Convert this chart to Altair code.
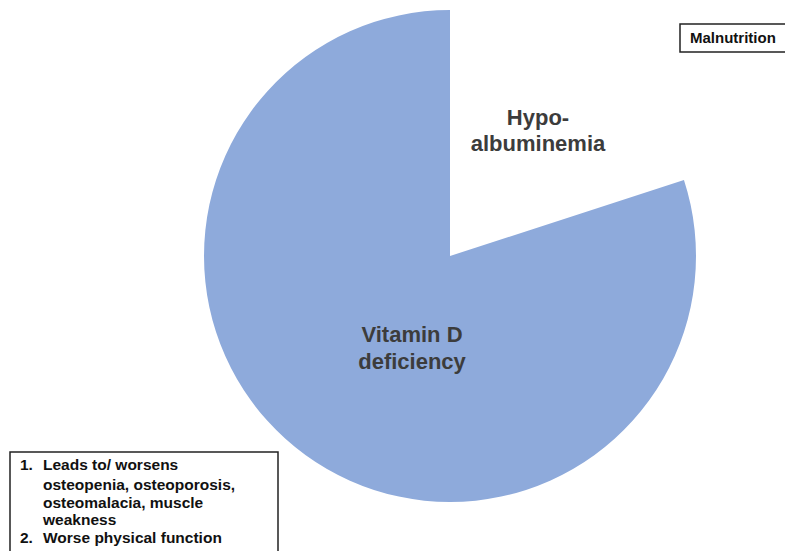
import altair as alt
import pandas as pd

# Pie data
slices = ["Hypo-albuminemia", "Vitamin D deficiency"]
shares = [20, 80]
slice_order = [0, 1]
slice_colors = ["#ffffff", "#8eaadb"]

# Labels
pie_label_lines = ["Hypo-", "albuminemia", "Vitamin D", "deficiency"]
box_numbers = ["1.", "", "", "", "2."]
box_lines = ["Leads to/ worsens", "osteopenia, osteoporosis,", "osteomalacia, muscle",
             "weakness", "Worse physical function"]
tag_text = ["Malnutrition"]

FONT = "Liberation Sans"

pie_df = pd.DataFrame({"slice": slices, "share": shares, "ord": slice_order})

pie = alt.Chart(pie_df).mark_arc(outerRadius=246).encode(
    theta=alt.Theta("share:Q", stack=True),
    color=alt.Color("slice:N", scale=alt.Scale(domain=slices, range=slice_colors), legend=None),
    order=alt.Order("ord:Q"),
    x=alt.value(442),
    y=alt.value(248),
)

lbl_df = pd.DataFrame({"t": pie_label_lines,
                       "px": [530, 530, 404, 404],
                       "py": [110, 136, 327, 354]})
pie_labels = alt.Chart(lbl_df).mark_text(
    font=FONT, fontSize=22, fontWeight="bold", color="#3c3c3c", align="center", baseline="middle"
).encode(text="t:N", x=alt.X("px:Q", scale=None), y=alt.Y("py:Q", scale=None))

# Boxes
box_df = pd.DataFrame({"x0": [2, 672], "x1": [270, 810], "y0": [444, 16], "y1": [570, 44]})
boxes = alt.Chart(box_df).mark_rect(fill="white", stroke="#222222", strokeWidth=1.5).encode(
    x=alt.X("x0:Q", scale=None), x2="x1:Q",
    y=alt.Y("y0:Q", scale=None), y2="y1:Q",
)

list_df = pd.DataFrame({"n": box_numbers, "t": box_lines,
                        "py": [457, 477, 495, 512, 530]})
nums = alt.Chart(list_df).mark_text(
    font=FONT, fontSize=15.5, fontWeight="bold", color="#111111", align="left", baseline="middle"
).encode(text="n:N", x=alt.value(12), y=alt.Y("py:Q", scale=None))
lines = alt.Chart(list_df).mark_text(
    font=FONT, fontSize=15.5, fontWeight="bold", color="#111111", align="left", baseline="middle"
).encode(text="t:N", x=alt.value(35), y=alt.Y("py:Q", scale=None))

tag_df = pd.DataFrame({"t": tag_text})
tag = alt.Chart(tag_df).mark_text(
    font=FONT, fontSize=15, fontWeight="bold", color="#111111", align="left", baseline="middle"
).encode(text="t:N", x=alt.value(682), y=alt.value(30))

chart = alt.layer(pie, pie_labels, boxes, nums, lines, tag).properties(
    width=777, height=543, padding=0, background="white",
    autosize=alt.AutoSizeParams(type="none")
).configure_view(stroke=None)

chart.save("out.html", embed_options={"renderer": "svg", "actions": False})
